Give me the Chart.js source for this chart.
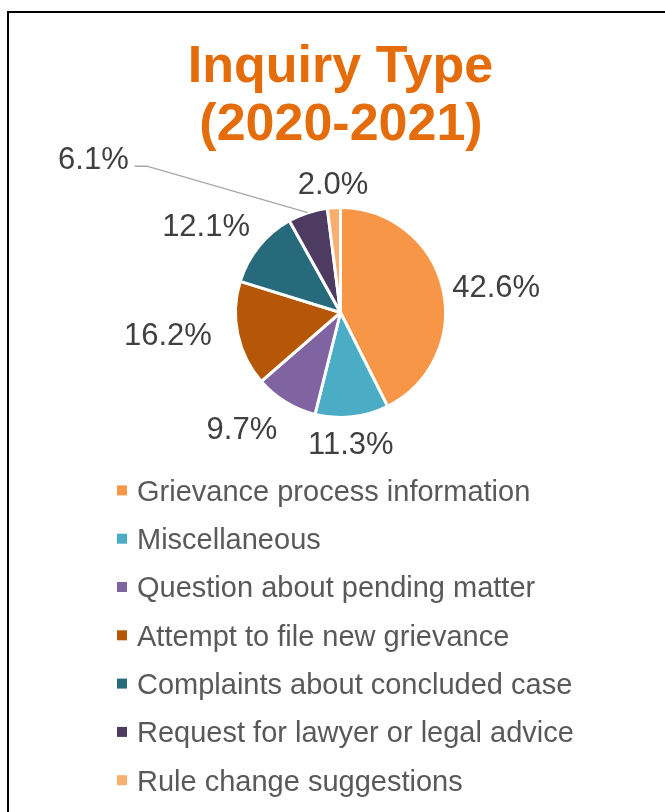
<!DOCTYPE html>
<html lang="en">
<head>
  <meta charset="UTF-8" />
  <title>Inquiry Type (2020-2021)</title>
  <script src="https://cdn.jsdelivr.net/npm/chart.js"></script>
  <style>
    * { box-sizing: border-box; margin: 0; padding: 0; }
    body { background: #fff; width: 665px; height: 812px; overflow: hidden; }
    canvas { display: block; }
  </style>
</head>
<body>
  <canvas id="pieChart" width="665" height="812"></canvas>

  <script>
    // chart data
    const titleLines = ['Inquiry Type', '(2020-2021)'];
    const categories = [
      'Grievance process information',
      'Miscellaneous',
      'Question about pending matter',
      'Attempt to file new grievance',
      'Complaints about concluded case',
      'Request for lawyer or legal advice',
      'Rule change suggestions'
    ];
    const shares = [42.6, 11.3, 9.7, 16.2, 12.1, 6.1, 2.0];
    const sliceColors = ['#F79646', '#4BACC6', '#8064A2', '#B65708', '#276A7C', '#4D3B62', '#F9AE6E'];
    // slice whose label sits away from the pie with a leader line
    const leaderCategories = ['Request for lawyer or legal advice'];

    const FONT = '"Liberation Sans", Arial, sans-serif';

    // white page + the black frame round it
    const pageFrame = {
      id: 'pageFrame',
      beforeDraw(chart) {
        const ctx = chart.ctx;
        ctx.save();
        ctx.fillStyle = '#fff';
        ctx.fillRect(0, 0, chart.width, chart.height);
        ctx.strokeStyle = '#000';
        ctx.lineWidth = 2;
        ctx.beginPath();
        ctx.moveTo(8, chart.height + 5);
        ctx.lineTo(8, 12);
        ctx.lineTo(chart.width + 5, 12);
        ctx.stroke();
        ctx.restore();
      }
    };

    const titleBlock = {
      id: 'titleBlock',
      afterDraw(chart) {
        const ctx = chart.ctx;
        ctx.save();
        ctx.fillStyle = '#E46C0A';
        ctx.font = 'bold 52px ' + FONT;
        ctx.textAlign = 'center';
        ctx.textBaseline = 'alphabetic';
        ctx.fillText(titleLines[0], 340.5, 82);
        ctx.fillText(titleLines[1], 341, 140);
        ctx.restore();
      }
    };

    const listLegend = {
      id: 'listLegend',
      afterDraw(chart) {
        const ctx = chart.ctx;
        const ds = chart.data.datasets[0];
        ctx.save();
        ctx.font = '29px ' + FONT;
        ctx.textAlign = 'left';
        ctx.textBaseline = 'alphabetic';
        chart.data.labels.forEach((lab, i) => {
          const cy = 490.4 + i * 48.3;
          ctx.fillStyle = ds.backgroundColor[i];
          ctx.fillRect(117, cy - 5, 10, 10);
          ctx.fillStyle = '#595959';
          ctx.fillText(lab, 137, cy + 10.4);
        });
        ctx.restore();
      }
    };

    const outLabels = {
      id: 'outLabels',
      afterDatasetsDraw(chart, args, opts) {
        const ctx = chart.ctx;
        const meta = chart.getDatasetMeta(0);
        const values = chart.data.datasets[0].data;
        ctx.save();
        ctx.font = '31px ' + FONT;
        ctx.fillStyle = '#404040';
        ctx.textBaseline = 'alphabetic';
        meta.data.forEach((arc, i) => {
          const text = values[i].toFixed(1) + '%';
          const w = ctx.measureText(text).width;
          const mid = (arc.startAngle + arc.endAngle) / 2;
          const ux = Math.cos(mid), uy = Math.sin(mid);
          if (leaderCategories.includes(chart.data.labels[i])) {
            const px = arc.x + ux * arc.outerRadius;
            const py = arc.y + uy * arc.outerRadius;
            ctx.strokeStyle = '#A6A6A6';
            ctx.lineWidth = 1.3;
            ctx.beginPath();
            ctx.moveTo(px, py);
            ctx.lineTo(px - 161, py - 46.5);
            ctx.lineTo(px - 173, py - 46.5);
            ctx.stroke();
            ctx.textAlign = 'right';
            ctx.fillText(text, px - 179, py - 55 + 11);
            return;
          }
          const r = arc.outerRadius + opts.gap;
          const nudge = opts.nudge[i] || [0, 0];
          const cx = arc.x + ux * r + ux * w / 2 + nudge[0];
          const cy = arc.y + uy * r + uy * 15 + nudge[1];
          ctx.textAlign = 'center';
          ctx.fillText(text, cx, cy + 11);
        });
        ctx.restore();
      }
    };

    new Chart(document.getElementById('pieChart'), {
      type: 'pie',
      data: {
        labels: categories,
        datasets: [{
          data: shares,
          backgroundColor: sliceColors,
          borderColor: '#fff',
          borderWidth: 3
        }]
      },
      options: {
        responsive: false,
        animation: false,
        events: [],
        layout: { padding: { left: 234, right: 218, top: 206, bottom: 393 } },
        plugins: {
          legend: { display: false },
          tooltip: { enabled: false },
          title: { display: false },
          outLabels: {
            gap: 10,
            nudge: [[1, 3], [-7, 1], [-20, 5], [-17, -5], [-11, -6], [0, 0], [2, 0]]
          }
        }
      },
      plugins: [pageFrame, outLabels, titleBlock, listLegend]
    });
  </script>
</body>
</html>
